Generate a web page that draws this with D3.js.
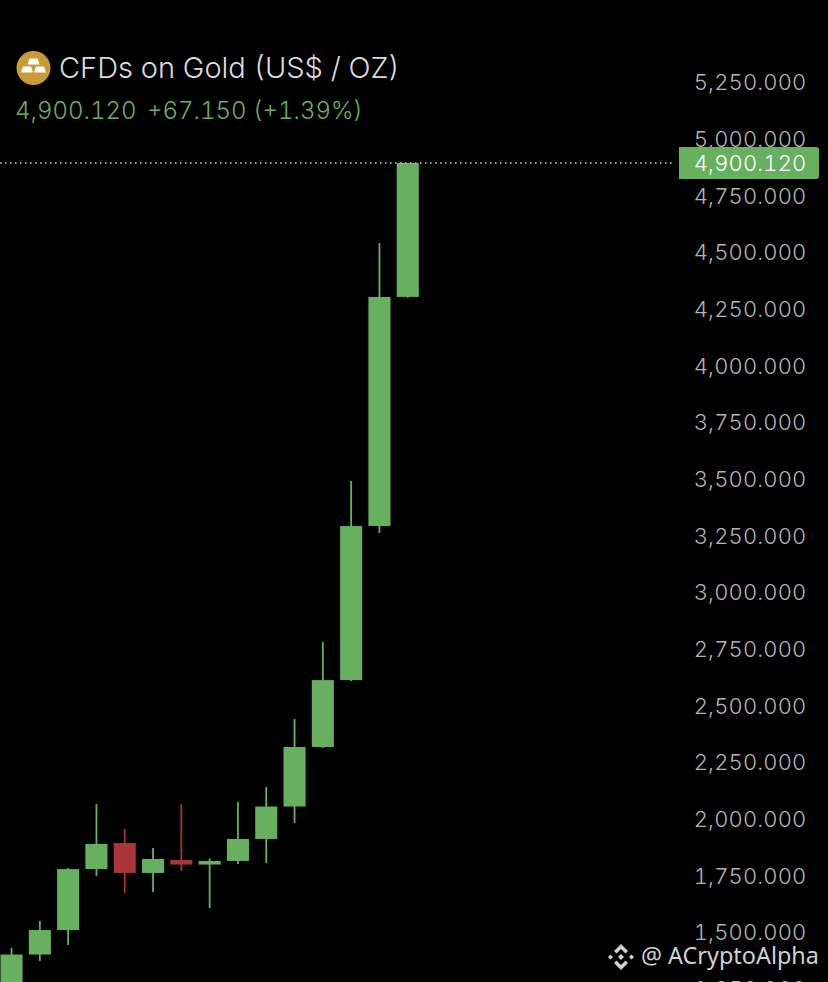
<!DOCTYPE html>
<html lang="en">
<head>
  <meta charset="UTF-8" />
  <title>CFDs on Gold</title>
  <script src="https://d3js.org/d3.v7.min.js"></script>
  <style>
    html, body { margin: 0; padding: 0; background: #000; overflow: hidden; }
    svg { display: block; font-family: Inter, "Liberation Sans", sans-serif; font-variant-numeric: tabular-nums; }
    .price-axis path, .price-axis line { display: none; }
    .price-axis text { fill: #b4b4b4; font-size: 22px; font-weight: 300; letter-spacing: 0.15px; text-anchor: end; }
  </style>
</head>
<body>
  <svg width="828" height="982"></svg>

  <script>
    // Candle values, left to right
    const opens  = [1240, 1407, 1515, 1784, 1899, 1767, 1824, 1804, 1820, 1917, 2060, 2323, 2618, 3298, 4309];
    const highs  = [1436, 1555, 1789, 2071, 1961, 1877, 2071, 1831, 2080, 2146, 2446, 2786, 3497, 4547, 4900.12];
    const lows   = [1200, 1378, 1449, 1754, 1679, 1683, 1776, 1612, 1806, 1811, 1987, 2319, 2614, 3267, 4305];
    const closes = [1407, 1515, 1784, 1895, 1767, 1829, 1804, 1820, 1917, 2060, 2323, 2618, 3298, 4309, 4900.12];
    const priceTicks = [1250, 1500, 1750, 2000, 2250, 2500, 2750, 3000, 3250, 3500, 3750, 4000, 4250, 4500, 4750, 5000, 5250];
    const lastPrice = 4900.12;
    const titleText = "CFDs on Gold (US$ / OZ)";
    const quoteText = ["4,900.120", "+67.150 (+1.39%)"];
    const watermark = "@ ACryptoAlpha";

    const UP = "#67b05f";
    const DOWN = "#a9343a";

    const svg = d3.select("svg");
    const candles = opens.map((o, i) => ({ i, o, h: highs[i], l: lows[i], c: closes[i] }));

    const x = d3.scaleBand()
      .domain(candles.map(d => d.i))
      .range([-2.6, 421.9])
      .paddingInner(0.22)
      .paddingOuter(0.11);

    const y = d3.scaleLinear().domain([1250, 5250]).range([990.1, 83.7]);

    // Wicks
    svg.selectAll("line.wick")
      .data(candles)
      .enter()
      .append("line")
      .attr("class", "wick")
      .attr("x1", d => x(d.i) + x.bandwidth() / 2)
      .attr("x2", d => x(d.i) + x.bandwidth() / 2)
      .attr("y1", d => y(d.h))
      .attr("y2", d => y(d.l))
      .attr("stroke", d => d.c >= d.o ? UP : DOWN)
      .attr("stroke-width", 1.8);

    // Bodies
    svg.selectAll("rect.body")
      .data(candles)
      .enter()
      .append("rect")
      .attr("class", "body")
      .attr("x", d => x(d.i))
      .attr("width", x.bandwidth())
      .attr("y", d => y(Math.max(d.o, d.c)))
      .attr("height", d => Math.abs(y(d.o) - y(d.c)))
      .attr("fill", d => d.c >= d.o ? UP : DOWN);

    // Price axis
    const axis = svg.append("g")
      .attr("class", "price-axis")
      .attr("transform", "translate(806.5,-0.8)")
      .call(d3.axisRight(y).tickValues(priceTicks).tickFormat(d3.format(",.3f")).tickSize(0).tickPadding(0));
    axis.attr("font-family", null).attr("font-size", null);

    // Last price line and tag
    svg.append("line")
      .attr("x1", 0).attr("x2", 675)
      .attr("y1", y(lastPrice)).attr("y2", y(lastPrice))
      .attr("stroke", "#a8d8a3")
      .attr("stroke-width", 1.4)
      .attr("stroke-dasharray", "1.6 3.4");

    svg.append("path")
      .attr("d", `M679,${y(lastPrice) - 16}H816a3,3 0 0 1 3,3V${y(lastPrice) + 13}a3,3 0 0 1 -3,3H679Z`)
      .attr("fill", UP);

    svg.append("text")
      .attr("x", 806.5).attr("y", y(lastPrice))
      .attr("dy", "0.36em")
      .attr("text-anchor", "end")
      .attr("fill", "#fff")
      .attr("font-size", 22)
      .attr("font-weight", 300)
      .attr("letter-spacing", 0.15)
      .text(d3.format(",.3f")(lastPrice));

    // Header: gold icon
    const icon = svg.append("g").attr("transform", "translate(33.5,68)");
    icon.append("circle").attr("r", 17).attr("fill", "#c99a35");
    const bars = [[0, -6.5], [-6.5, 1.5], [6.5, 1.5]];
    icon.selectAll("path")
      .data(bars)
      .enter()
      .append("path")
      .attr("transform", d => `translate(${d[0]},${d[1]})`)
      .attr("d", "M-4,-3H4L6,3H-6Z")
      .attr("fill", "#fff");

    svg.append("text")
      .attr("x", 59).attr("y", 78)
      .attr("fill", "#dcdcdc")
      .attr("font-size", 29)
      .attr("font-weight", 300)
      .text(titleText);

    svg.append("text")
      .attr("x", 15).attr("y", 119)
      .attr("fill", UP)
      .attr("font-size", 24)
      .attr("font-weight", 300)
      .text(quoteText[0]);

    svg.append("text")
      .attr("x", 147).attr("y", 119)
      .attr("fill", UP)
      .attr("font-size", 24)
      .attr("font-weight", 300)
      .text(quoteText[1]);

    // Watermark with diamond logo
    const logo = svg.append("g").attr("transform", "translate(621,957)").attr("fill", "#d0d0d0");
    logo.append("path").attr("d", "M0,-13L7,-6L4.5,-3.5L0,-8L-4.5,-3.5L-7,-6Z");
    logo.append("path").attr("d", "M0,13L7,6L4.5,3.5L0,8L-4.5,3.5L-7,6Z");
    logo.append("path").attr("d", "M0,-3L3,0L0,3L-3,0Z");
    logo.append("path").attr("d", "M-10.5,-2.5L-8,0L-10.5,2.5L-13,0Z");
    logo.append("path").attr("d", "M10.5,-2.5L13,0L10.5,2.5L8,0Z");

    svg.append("text")
      .attr("x", 641).attr("y", 964)
      .attr("fill", "#d0d0d0")
      .attr("font-family", "'Noto Sans', sans-serif")
      .attr("font-size", 23.4)
      .text(watermark);
  </script>
</body>
</html>
